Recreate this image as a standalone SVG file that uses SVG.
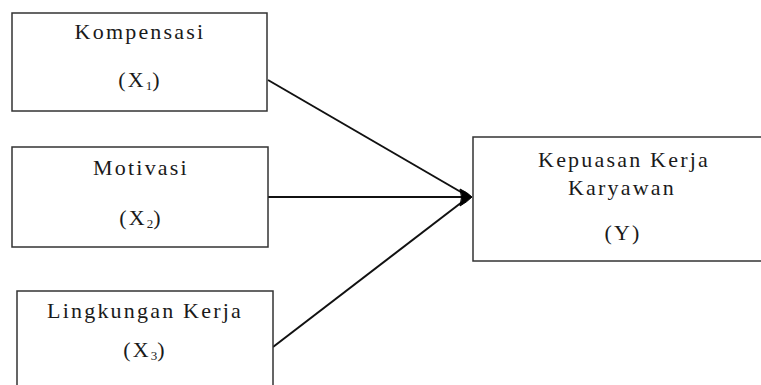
<svg xmlns="http://www.w3.org/2000/svg" width="761" height="385" viewBox="0 0 761 385">
<style>
.box{fill:#ffffff;stroke:#333333;stroke-width:1.5}
.t{font-family:'Liberation Serif','Times New Roman',serif;font-size:22px;letter-spacing:2.2px;fill:#1a1a1a;text-anchor:middle}
.sub{font-size:13px;letter-spacing:0}
.edge{stroke:#111111;stroke-width:2;fill:none}
.head{fill:#000000;stroke:#000000;stroke-width:1;stroke-linejoin:round}
</style>
<rect width="761" height="385" fill="#ffffff"/>
<g id="connectors">
<line class="edge" x1="268" y1="80" x2="466" y2="195"/>
<line class="edge" x1="268" y1="197" x2="466" y2="197"/>
<line class="edge" x1="273" y1="347" x2="466" y2="199"/>
<path class="head" d="M460,189 Q467,192 472,197 Q467,202 460,206 Q463,197 460,189 Z"/>
</g>
<g id="kompensasi">
<rect class="box" x="12" y="13" width="255" height="98"/>
<text class="t" x="140" y="39">Kompensasi</text>
<text class="t" x="140" y="87">(X<tspan class="sub" dy="3">1</tspan><tspan dy="-3">)</tspan></text>
</g>
<g id="motivasi">
<rect class="box" x="12" y="147" width="256" height="100"/>
<text class="t" x="141" y="175">Motivasi</text>
<text class="t" x="141" y="225">(X<tspan class="sub" dy="3">2</tspan><tspan dy="-3">)</tspan></text>
</g>
<g id="lingkungan">
<rect class="box" x="17" y="291" width="256" height="110"/>
<text class="t" x="145" y="318">Lingkungan Kerja</text>
<text class="t" x="145" y="357">(X<tspan class="sub" dy="3">3</tspan><tspan dy="-3">)</tspan></text>
</g>
<g id="kepuasan">
<rect class="box" x="473" y="137" width="300" height="124"/>
<text class="t" x="624" y="167">Kepuasan Kerja</text>
<text class="t" x="622" y="195">Karyawan</text>
<text class="t" x="623" y="240">(Y)</text>
</g>
</svg>
